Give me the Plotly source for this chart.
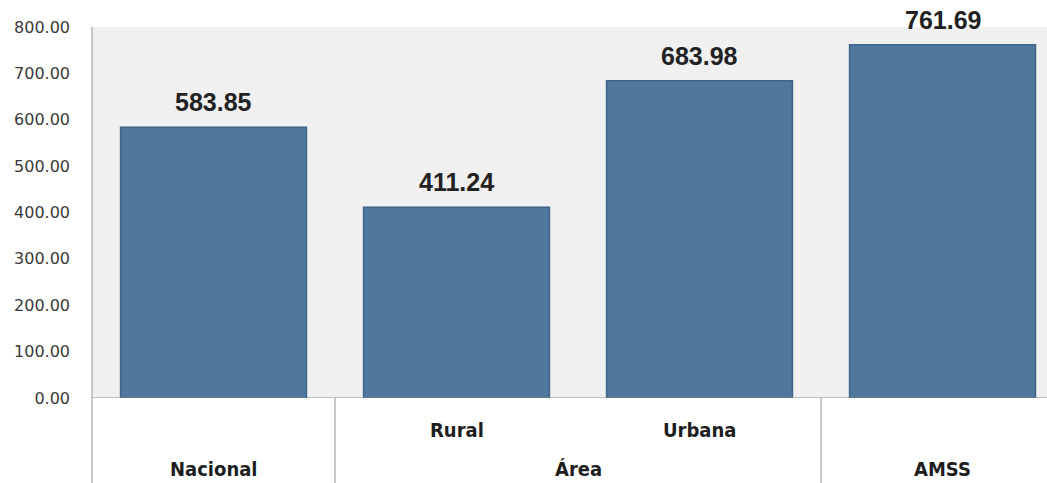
import plotly.graph_objects as go

categories = ["Nacional", "Rural", "Urbana", "AMSS"]
values = [583.85, 411.24, 683.98, 761.69]
sub_labels = ["", "Rural", "Urbana", ""]
group_labels = ["Nacional", "Área", "AMSS"]
group_centers = [0, 1.5, 3]
separators = [0.5, 2.5]
y_ticks = [0, 100, 200, 300, 400, 500, 600, 700, 800]

x_idx = list(range(len(categories)))

H = 483
T, B = 27, 85
ph = H - T - B

fig = go.Figure()
fig.add_trace(go.Bar(
    x=x_idx, y=values, width=0.765,
    marker=dict(color="#50789f", line=dict(color="#3e6489", width=1.5)),
    hoverinfo="skip",
))

for xi, v in zip(x_idx, values):
    fig.add_annotation(x=xi, y=v, xref="x", yref="y", text=f"<b>{v:.2f}</b>",
                       showarrow=False, yshift=25, yanchor="middle",
                       font=dict(family="Liberation Sans", size=25, color="#222222"))

def py(pix):
    return (H - B - pix) / ph

cat_font = dict(family="DejaVu Sans Condensed", size=20, color="#1e1e1e")
for xi, lab in zip(x_idx, sub_labels):
    if lab:
        fig.add_annotation(x=xi, y=py(430), xref="x", yref="paper", text=f"<b>{lab}</b>",
                           showarrow=False, yanchor="middle", font=cat_font)
for xc, lab in zip(group_centers, group_labels):
    fig.add_annotation(x=xc, y=py(469), xref="x", yref="paper", text=f"<b>{lab}</b>",
                       showarrow=False, yanchor="middle", font=cat_font)

for s in separators:
    fig.add_shape(type="line", xref="x", yref="paper", x0=s, x1=s,
                  y0=0, y1=-B / ph, line=dict(color="#a6a6a6", width=1.2))
fig.add_shape(type="line", xref="paper", yref="y", x0=0, x1=1, y0=0, y1=0,
              line=dict(color="#8c8c8c", width=1.2))
fig.add_shape(type="line", xref="paper", yref="paper", x0=0, x1=0,
              y0=-B / ph, y1=1, line=dict(color="#a6a6a6", width=1.2))

fig.update_layout(
    width=1047, height=H,
    margin=dict(l=92, r=0, t=T, b=B, autoexpand=False),
    paper_bgcolor="white", plot_bgcolor="#f0f0f0",
    showlegend=False,
    xaxis=dict(range=[-0.5, 3.43], showticklabels=False, showgrid=False,
               zeroline=False, showline=False, ticks="", automargin=False),
    yaxis=dict(range=[0, 800], tickvals=y_ticks, tickformat=".2f",
               showgrid=False, zeroline=False, showline=False, ticks="",
               ticklabelstandoff=21, automargin=False,
               tickfont=dict(family="DejaVu Sans", size=16, color="#3a3a3a")),
)

fig.write_html("out.html", config={"displayModeBar": False},
               post_script="document.body.style.margin='0';document.body.style.overflow='hidden';")
